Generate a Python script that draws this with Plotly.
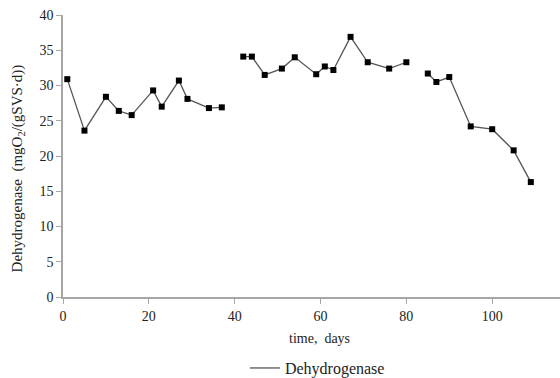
import plotly.graph_objects as go

days = [1, 5, 10, 13, 16, 21, 23, 27, 29, 34, 37, None,
        42, 44, 47, 51, 54, 59, 61, 63, 67, 71, 76, 80, None,
        85, 87, 90, 95, 100, 105, 109]
dehydrogenase = [30.9, 23.6, 28.4, 26.4, 25.8, 29.3, 27.0, 30.7, 28.1, 26.8, 26.9, None,
                 34.1, 34.1, 31.5, 32.4, 34.0, 31.6, 32.7, 32.2, 36.9, 33.3, 32.4, 33.3, None,
                 31.7, 30.5, 31.2, 24.2, 23.8, 20.8, 16.3]
x_ticks = [0, 20, 40, 60, 80, 100]
y_ticks = [0, 5, 10, 15, 20, 25, 30, 35, 40]

font_family = "Liberation Serif"
fig = go.Figure()
fig.add_trace(go.Scatter(
    x=days, y=dehydrogenase, mode="lines+markers",
    line=dict(color="#555555", width=1.3),
    marker=dict(symbol="square", size=6, color="black"),
    connectgaps=False, showlegend=False, name="Dehydrogenase"))
fig.add_trace(go.Scatter(
    x=[None], y=[None], mode="lines",
    line=dict(color="#555555", width=1.3),
    name="Dehydrogenase", showlegend=True))

axis_common = dict(showgrid=False, zeroline=False, showline=True,
                   linecolor="#a6a6a6", linewidth=1.5,
                   ticks="outside", ticklen=5, tickcolor="#a6a6a6", tickwidth=1,
                   tickfont=dict(family=font_family, size=14, color="#222222"))
fig.update_xaxes(range=[0, 115.8], tickvals=x_ticks, **axis_common)
fig.update_yaxes(range=[0, 40], tickvals=y_ticks, **axis_common)

fig.update_layout(
    width=560, height=378,
    margin=dict(l=63, r=0, t=15, b=81, autoexpand=False),
    paper_bgcolor="white", plot_bgcolor="white",
    font=dict(family=font_family, size=13, color="#222222"),
    legend=dict(orientation="h", x=0.366, y=-0.252, xanchor="left", yanchor="middle",
                font=dict(family=font_family, size=16, color="#222222"),
                itemwidth=30, bgcolor="rgba(0,0,0,0)"),
    annotations=[
        dict(text="time,  days", xref="paper", yref="paper", x=0.516, y=-0.148,
             xanchor="center", yanchor="middle", showarrow=False,
             font=dict(family=font_family, size=14, color="#222222")),
        dict(text="Dehydrogenase  (mgO<sub>2</sub>/(gSVS·d))", xref="paper", yref="paper",
             x=-0.09, y=0.457, xanchor="center", yanchor="middle", textangle=-90,
             showarrow=False, font=dict(family=font_family, size=15, color="#222222")),
    ],
)
fig.write_html("out.html")
